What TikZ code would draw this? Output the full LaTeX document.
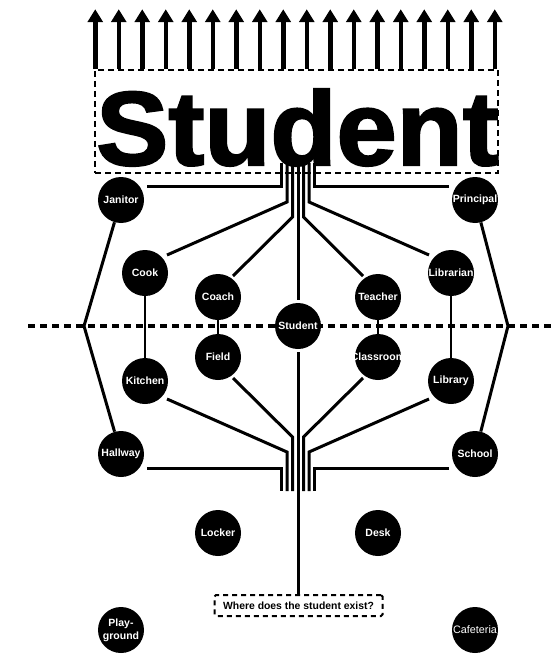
\documentclass[tikz,border=0pt]{standalone}
\usepackage{fontspec}
\setmainfont{Liberation Sans}
\newfontfamily\titlefont{Liberation Sans Bold}[FakeBold=2]
\usetikzlibrary{arrows.meta,calc}
\newcommand{\cl}[1]{\makebox[0pt][c]{#1}}
\begin{document}
\begin{tikzpicture}[x=1pt,y=-1pt,
  place/.style={circle,fill=black,minimum size=46pt,inner sep=0pt,text=white,font=\bfseries\fontsize{10.5}{13}\selectfont},
  wire/.style={line width=3pt},
  link/.style={line width=2.5pt},
  uparrow/.style={line width=4.5pt,-{Triangle[width=15pt,length=13pt]}},
]
\useasboundingbox (0,0) rectangle (554,658);

% title box and arrows
\node[draw,line width=1.5pt,dash pattern=on 6pt off 4pt,minimum width=403pt,minimum height=103pt,inner sep=0pt] (titlebox) at (296.5,121.5) {};
\node[anchor=base,inner sep=0pt,xscale=1.03,font=\titlefont\fontsize{105}{105}\selectfont] (title) at (297.5,165) {Student};
\foreach \i in {0,...,17}{
  \coordinate (a\i) at ($(titlebox.north west)+(1+\i*23.5,0)$);
  \draw[uparrow] (a\i) -- ++(0,-60);
}

% dotted axis
\coordinate (axL) at (28,326);
\coordinate (axR) at (554,326);
\draw[line width=3.5pt,dash pattern=on 6.5pt off 5.5pt] (axL) -- (axR);

% nodes
\node[place] (Janitor) at (121,200) {\cl{Janitor}};
\node[place] (Principal) at (475,200) {\cl{Principal}};
\node[place] (Cook) at (145,273) {\cl{Cook}};
\node[place] (Librarian) at (451,273) {\cl{Librarian}};
\node[place] (Coach) at (218,297) {\cl{Coach}};
\node[place] (Teacher) at (378,297) {\cl{Teacher}};
\node[place] (Student) at (298,326) {\cl{Student}};
\node[place] (Field) at (218,357) {\cl{Field}};
\node[place] (Classroom) at (378,357) {\cl{Classroom}};
\node[place] (Kitchen) at (145,381) {\cl{Kitchen}};
\node[place] (Library) at (451,381) {\cl{Library}};
\node[place] (Hallway) at (121,454) {\cl{Hallway}};
\node[place] (School) at (475,454) {\cl{School}};
\node[place] (Locker) at (218,533) {\cl{Locker}};
\node[place] (Desk) at (378,533) {\cl{Desk}};
\node[place,align=center] (Playground) at (121,630) {\cl{Play-}\\\cl{ground}};
\node[place,font=\fontsize{10.8}{13}\selectfont] (Cafeteria) at (475,630) {\cl{Cafeteria}};

\node[draw,line width=2pt,dash pattern=on 5pt off 4pt,rounded corners=1.5pt,minimum width=168pt,minimum height=21pt,inner sep=0pt,font=\bfseries\fontsize{10.4}{12}\selectfont] (Q) at (298.5,605.5) {Where does the student exist?};

% side links
\coordinate (apexL) at (84,326);
\coordinate (apexR) at (508,326);
\draw[wire] (Janitor) -- (apexL) -- (Hallway);
\draw[wire] (Principal) -- (apexR) -- (School);
\draw[link] (Cook) -- (Kitchen);
\draw[link] (Librarian) -- (Library);
\draw[link] (Coach) -- (Field);
\draw[link] (Teacher) -- (Classroom);

% upper bundle
\coordinate (u1) at (281.5,186); \coordinate (u1t) at (281.5,163);
\coordinate (u2) at (287,202);   \coordinate (u2t) at (287,163);
\coordinate (u3) at (292.5,217); \coordinate (u3t) at (292.5,163);
\coordinate (u4t) at (298,163);
\coordinate (u5) at (303.5,217); \coordinate (u5t) at (303.5,163);
\coordinate (u6) at (309,202);   \coordinate (u6t) at (309,163);
\coordinate (u7) at (314.5,186); \coordinate (u7t) at (314.5,163);
\draw[wire] ($(Janitor)+(26,-14)$) -- (u1) -- (u1t);
\draw[wire] ($(Cook)+(22,-18)$) -- (u2) -- (u2t);
\draw[wire] ($(Coach)+(15,-21)$) -- (u3) -- (u3t);
\draw[wire,shorten >=3pt] (u4t) -- (Student);
\draw[wire] ($(Teacher)+(-15,-21)$) -- (u5) -- (u5t);
\draw[wire] ($(Librarian)+(-22,-18)$) -- (u6) -- (u6t);
\draw[wire] ($(Principal)+(-26,-14)$) -- (u7) -- (u7t);

% lower bundle
\coordinate (l1) at (281.5,468); \coordinate (l1b) at (281.5,491);
\coordinate (l2) at (287,452);   \coordinate (l2b) at (287,491);
\coordinate (l3) at (292.5,437); \coordinate (l3b) at (292.5,491);
\coordinate (l5) at (303.5,437); \coordinate (l5b) at (303.5,491);
\coordinate (l6) at (309,452);   \coordinate (l6b) at (309,491);
\coordinate (l7) at (314.5,468); \coordinate (l7b) at (314.5,491);
\draw[wire] ($(Hallway)+(26,14)$) -- (l1) -- (l1b);
\draw[wire] ($(Kitchen)+(22,18)$) -- (l2) -- (l2b);
\draw[wire] ($(Field)+(15,21)$) -- (l3) -- (l3b);
\draw[wire] ($(Classroom)+(-15,21)$) -- (l5) -- (l5b);
\draw[wire] ($(Library)+(-22,18)$) -- (l6) -- (l6b);
\draw[wire] ($(School)+(-26,14)$) -- (l7) -- (l7b);
\draw[wire,shorten <=3pt] (Student) -- (Student |- Q.north);
\end{tikzpicture}
\end{document}
